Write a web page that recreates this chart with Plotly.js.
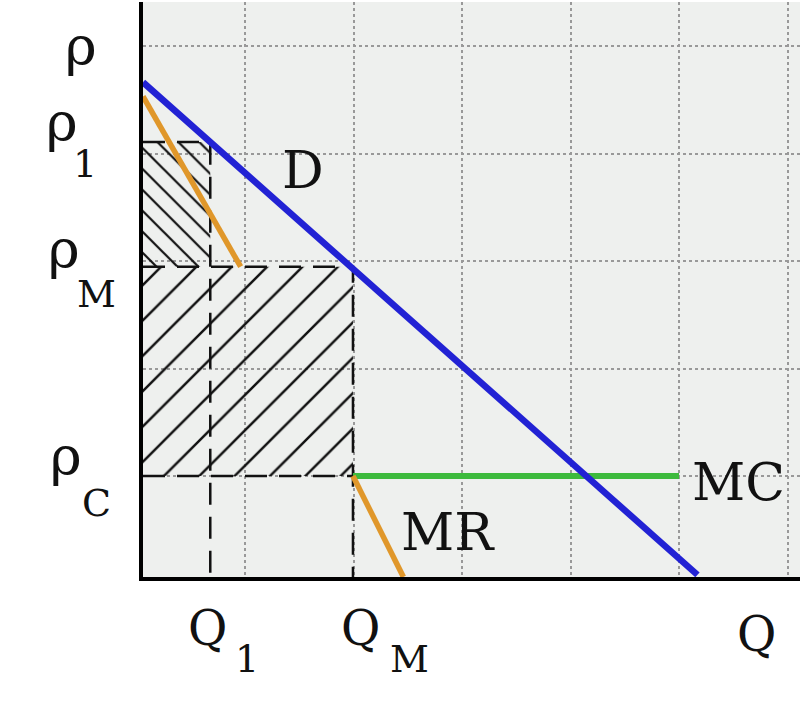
<!DOCTYPE html>
<html><head><meta charset="utf-8">
<script src="https://cdn.plot.ly/plotly-3.0.1.min.js"></script>
<style>html,body{margin:0;padding:0;background:#fff}</style>
</head><body><div id="chart" style="width:800px;height:702px"></div>
<script>
// ---- quantities and prices (chart units) ----
const qLevels = [0.62, 1.935];          // Q1, QM
const pLevels = [4.01, 2.86, 0.931];    // P1, PM, PC
const axisMax = [6.055, 5.30];          // Q axis end, P axis end

// ---- curves ----
const demandQ = [0, 5.11];
const demandP = [4.56, 0.02];
const mrQ = [0, 0.90, null, 1.935, 2.40];
const mrP = [4.43, 2.86, null, 0.931, 0];
const mcQ = [1.935, 4.94];
const mcP = [0.931, 0.931];

// ---- guide lines (dashed) ----
const guideQ = [0, 0.62, 0.62, null, 0, 1.935, 1.935, null, 0, 1.935];
const guideP = [4.01, 4.01, 0, null, 2.86, 2.86, 0, null, 0.931, 0.931];

// ---- hatched areas ----
const upperAreaQ = [0, 0.62, 0.62, 0, 0];
const upperAreaP = [2.86, 2.86, 4.01, 4.01, 2.86];
const lowerAreaQ = [0, 1.935, 1.935, 0, 0];
const lowerAreaP = [0.931, 0.931, 2.86, 2.86, 0.931];

// ---- labels ----
const mainLabels = ['ρ', 'ρ', 'ρ', 'ρ', 'Q', 'Q', 'Q', 'D', 'MR', 'MC'];
const subLabels = ['1', 'M', 'C', '1', 'M'];

// layout geometry (pixels)
const L = 143, T = 2, W = 657, H = 575;
function P(px, py) { return {xref: 'paper', yref: 'paper', x: (px - L) / W, y: (T + H - py) / H}; }
const mainPos = [[81, 46, 54], [62, 123, 54], [64, 249, 54], [66, 456, 54],
                 [207, 628, 48], [360, 628, 48], [756, 634, 48],
                 [303, 170, 52], [448, 532, 52], [738, 482, 52]];
const subPos = [[85, 164], [96, 294], [96, 503], [247, 659], [409, 659]];

const font = 'DejaVu Serif';
const annotations = [];
mainLabels.forEach((t, i) => {
  annotations.push(Object.assign(P(mainPos[i][0], mainPos[i][1]), {
    text: t, showarrow: false, xanchor: 'center', yanchor: 'middle',
    font: {family: font, size: mainPos[i][2], color: '#111'}
  }));
});
subLabels.forEach((t, i) => {
  annotations.push(Object.assign(P(subPos[i][0], subPos[i][1]), {
    text: t, showarrow: false, xanchor: 'center', yanchor: 'middle',
    font: {family: font, size: 38, color: '#111'}
  }));
});

const traces = [
  {type: 'scatter', x: lowerAreaQ, y: lowerAreaP, mode: 'lines', line: {width: 0},
   fill: 'toself', fillcolor: 'rgba(0,0,0,0)',
   fillpattern: {shape: '/', size: 25, solidity: 0.1, fgcolor: '#111', bgcolor: 'rgba(0,0,0,0)'},
   hoverinfo: 'skip'},
  {type: 'scatter', x: upperAreaQ, y: upperAreaP, mode: 'lines', line: {width: 0},
   fill: 'toself', fillcolor: 'rgba(0,0,0,0)',
   fillpattern: {shape: '\\', size: 14.8, solidity: 0.15, fgcolor: '#111', bgcolor: 'rgba(0,0,0,0)'},
   hoverinfo: 'skip'},
  {type: 'scatter', x: guideQ, y: guideP, mode: 'lines',
   line: {color: '#111', width: 2.5, dash: '22px,12px'}, hoverinfo: 'skip'},
  {type: 'scatter', x: mcQ, y: mcP, mode: 'lines', line: {color: '#3dba3d', width: 6}, hoverinfo: 'skip'},
  {type: 'scatter', x: mrQ, y: mrP, mode: 'lines', line: {color: '#e0972a', width: 5.5}, hoverinfo: 'skip'},
  {type: 'scatter', x: demandQ, y: demandP, mode: 'lines', line: {color: '#2222d4', width: 6.5}, hoverinfo: 'skip'}
];

const axisCommon = {
  showline: true, linecolor: '#000', linewidth: 4, zeroline: false,
  showticklabels: false, ticks: '', showgrid: true,
  gridcolor: '#999999', gridwidth: 2, griddash: 'dot', fixedrange: true
};

const layout = {
  width: 800, height: 702,
  margin: {l: L, r: 800 - L - W, t: T, b: 702 - T - H, pad: 0},
  paper_bgcolor: '#ffffff', plot_bgcolor: '#eef0ee',
  showlegend: false,
  xaxis: Object.assign({}, axisCommon, {range: [0, axisMax[0]], tick0: 0.94, dtick: 1}),
  yaxis: Object.assign({}, axisCommon, {range: [0, axisMax[1]], tick0: 0.93, dtick: 0.99}),
  annotations: annotations
};

Plotly.newPlot('chart', traces, layout, {staticPlot: true});
</script></body></html>
